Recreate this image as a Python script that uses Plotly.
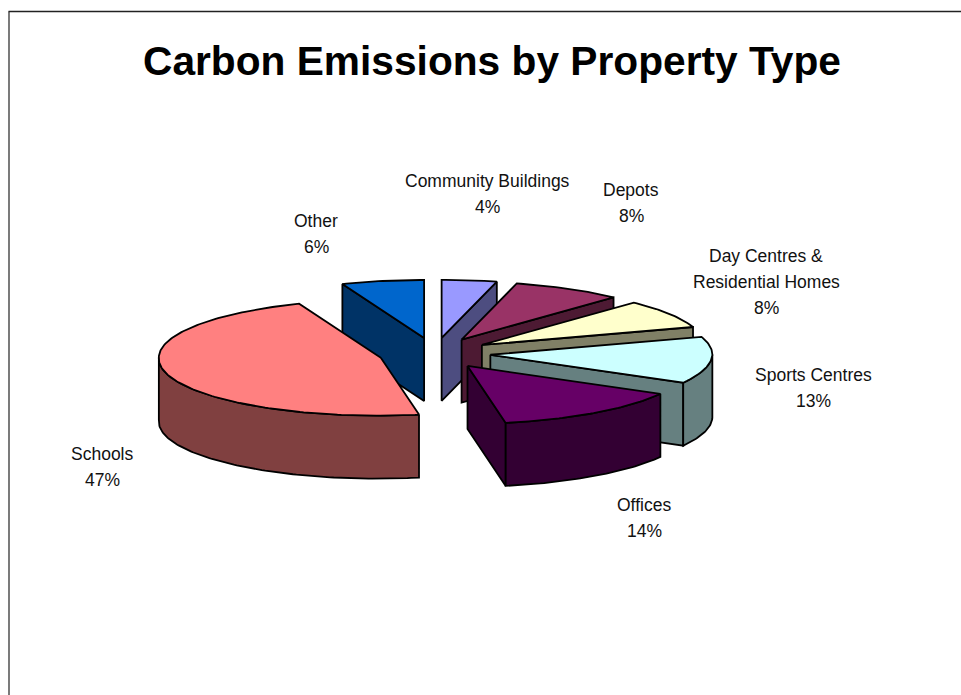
import numpy as np
import plotly.graph_objects as go

# ---- data ----
categories = ["Community Buildings", "Depots", "Day Centres & Residential Homes",
              "Sports Centres", "Offices", "Schools", "Other"]
values = [4, 8, 8, 13, 14, 47, 6]
title = "Carbon Emissions by Property Type"
label_lines = [["Community Buildings"], ["Depots"], ["Day Centres &", "Residential Homes"],
               ["Sports Centres"], ["Offices"], ["Schools"], ["Other"]]

# ---- style / layout ----
top_colors = ["#9999FF", "#993366", "#FFFFCC", "#CCFFFF", "#660066", "#FF8080", "#0066CC"]
side_colors = ["#4D4D80", "#4D1A33", "#808066", "#668080", "#330033", "#804040", "#003366"]
label_pos = [(487, 181), (631, 190), (766, 256), (813, 375), (644, 505), (102, 454), (316, 221)]
LINE_H = 26
CX, CY, RX, RY = 434.6, 353.3, 222.0, 58.0
EX, EY, DEPTH = 56.0, 15.6, 63.0
SKEW = 0.06
draw_order = [6, 0, 1, 2, 3, 4, 5]

fracs = np.array(values) / sum(values)
ends = np.cumsum(fracs) * 2 * np.pi
starts = ends - fracs * 2 * np.pi

fig = go.Figure()


def poly(xs, ys, color):
    fig.add_trace(go.Scatter(x=list(xs), y=list(ys), mode="lines", fill="toself",
                             fillcolor=color, line=dict(color="black", width=1.8),
                             hoverinfo="skip", showlegend=False))


def rim(ax, ay, t):
    dy = -RY * np.cos(t)
    return ax + RX * np.sin(t) - SKEW * np.maximum(dy, 0), ay + dy


for i in draw_order:
    s, e = starts[i], ends[i]
    mid = (s + e) / 2
    ax, ay = CX + EX * np.sin(mid), CY - EY * np.cos(mid)
    t = np.linspace(s, e, max(8, int(np.degrees(e - s))))
    ox, oy = rim(ax, ay, t)
    # visible radial cut faces
    for edge, visible in ((s, np.sin(s) < 0), (e, np.sin(e) > 0)):
        if visible:
            px, py = rim(ax, ay, edge)
            poly([ax, px, px, ax, ax], [ay, py, py + DEPTH, ay + DEPTH, ay], side_colors[i])
    # outer wall (front half only)
    mask = np.cos(t) < 0.02
    if mask.any():
        wx, wy = ox[mask], oy[mask]
        poly(np.r_[wx, wx[::-1], wx[0]], np.r_[wy, wy[::-1] + DEPTH, wy[0]], side_colors[i])
    # top face
    poly(np.r_[ax, ox, ax], np.r_[ay, oy, ay], top_colors[i])

annotations = [dict(x=492, y=61, text=title, showarrow=False, xref="x", yref="y",
                    font=dict(family="Liberation Sans", size=40.7, color="black", weight="bold"))]
for lines, v, (lx, ly) in zip(label_lines, values, label_pos):
    for k, txt in enumerate(lines + [f"{v}%"]):
        annotations.append(dict(x=lx, y=ly + k * LINE_H, text=txt, showarrow=False,
                                xref="x", yref="y",
                                font=dict(family="Liberation Sans", size=17.5, color="#111111")))

fig.update_layout(
    width=961, height=695, margin=dict(l=0, r=0, t=0, b=0),
    paper_bgcolor="white", plot_bgcolor="white", showlegend=False,
    xaxis=dict(range=[0, 961], visible=False, fixedrange=True),
    yaxis=dict(range=[695, 0], visible=False, fixedrange=True),
    annotations=annotations,
    shapes=[dict(type="line", x0=8.5, x1=961, y0=11.5, y1=11.5, line=dict(color="#222222", width=1.5)),
            dict(type="line", x0=9, x1=9, y0=11.5, y1=695, line=dict(color="#222222", width=1.2))],
)

fig.write_html("out.html", config=dict(displayModeBar=False),
               post_script="document.body.style.margin='0';document.body.style.overflow='hidden';")
